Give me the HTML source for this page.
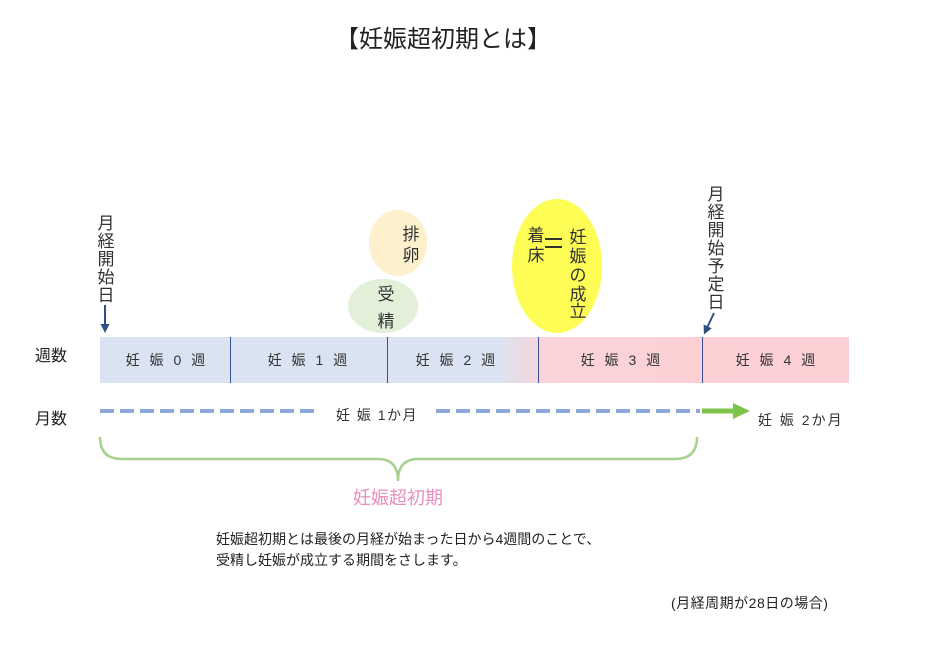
<!DOCTYPE html>
<html><head><meta charset="utf-8"><style>
html,body{margin:0;padding:0;background:#fff;}
svg text{font-family:"Liberation Sans","Noto Sans CJK JP",sans-serif;}
</style></head><body>
<svg width="935" height="652" viewBox="0 0 935 652" xmlns="http://www.w3.org/2000/svg">
<defs>
<linearGradient id="g" x1="100" x2="849" y1="0" y2="0" gradientUnits="userSpaceOnUse">
<stop offset="0" stop-color="#dae3f2"/>
<stop offset="0.53" stop-color="#dae3f2"/>
<stop offset="0.6" stop-color="#fbd3d6"/>
<stop offset="1" stop-color="#fccfd3"/>
</linearGradient>
<marker id="ab" markerUnits="userSpaceOnUse" markerWidth="9" markerHeight="9" refX="4" refY="4.5" orient="auto"><path d="M0,0 L9,4.5 L0,9 z" fill="#2f4f82"/></marker>
</defs>
<text x="443" y="47" font-size="24" text-anchor="middle" fill="#222">【妊娠超初期とは】</text>

<ellipse cx="398" cy="243" rx="29" ry="33" fill="#fdf0cc"/>
<ellipse cx="383" cy="306" rx="35" ry="27" fill="#e2efd9"/>
<ellipse cx="557" cy="266" rx="45" ry="67" fill="#fdfd55"/>
<text x="411" y="240" font-size="17" text-anchor="middle" fill="#333">排</text>
<text x="411" y="261" font-size="17" text-anchor="middle" fill="#333">卵</text>
<text x="386" y="300" font-size="17" text-anchor="middle" fill="#333">受</text>
<text x="386" y="327" font-size="17" text-anchor="middle" fill="#333">精</text>
<text x="536" y="241" font-size="17" text-anchor="middle" fill="#333">着</text>
<text x="536" y="261" font-size="17" text-anchor="middle" fill="#333">床</text>
<rect x="545" y="238" width="17" height="2" fill="#333"/>
<rect x="545" y="246" width="17" height="2" fill="#333"/>
<g font-size="17" fill="#333" text-anchor="middle">
<text x="578" y="243">妊</text><text x="578" y="262">娠</text><text x="578" y="281">の</text><text x="578" y="300">成</text><text x="578" y="317">立</text>
</g>

<g font-size="17" fill="#333" text-anchor="middle">
<text x="106" y="229">月</text><text x="106" y="247">経</text><text x="106" y="265">開</text><text x="106" y="283">始</text><text x="106" y="301">日</text>
</g>
<line x1="105" y1="305" x2="105" y2="328" stroke="#2f4f82" stroke-width="2" marker-end="url(#ab)"/>
<g font-size="17" fill="#333" text-anchor="middle">
<text x="716" y="200">月</text><text x="716" y="218">経</text><text x="716" y="236">開</text><text x="716" y="254">始</text><text x="716" y="272">予</text><text x="716" y="290">定</text><text x="716" y="308">日</text>
</g>
<line x1="714" y1="313" x2="706" y2="330" stroke="#2f4f82" stroke-width="2" marker-end="url(#ab)"/>

<text x="35" y="361" font-size="16" fill="#222">週数</text>
<rect x="100" y="337" width="749" height="46" fill="url(#g)"/>
<g stroke="#3a4f9a" stroke-width="1">
<line x1="230.5" y1="337" x2="230.5" y2="383"/>
<line x1="387.5" y1="337" x2="387.5" y2="383"/>
<line x1="538.5" y1="337" x2="538.5" y2="383"/>
<line x1="702.5" y1="337" x2="702.5" y2="383"/>
</g>
<g font-size="14" fill="#333" text-anchor="middle" letter-spacing="3">
<text x="167" y="365">妊 娠 0 週</text>
<text x="309" y="365">妊 娠 1 週</text>
<text x="457" y="365">妊 娠 2 週</text>
<text x="622" y="365">妊 娠 3 週</text>
<text x="777" y="365">妊 娠 4 週</text>
</g>

<text x="35" y="424" font-size="16" fill="#222">月数</text>
<line x1="100" y1="411" x2="316" y2="411" stroke="#8ea9d6" stroke-width="4" stroke-dasharray="14,6"/>
<line x1="436" y1="411" x2="700" y2="411" stroke="#8ea9d6" stroke-width="4" stroke-dasharray="14,6"/>
<text x="377" y="420" font-size="14" fill="#333" text-anchor="middle" letter-spacing="1.5">妊 娠 1か月</text>
<line x1="702" y1="411" x2="735" y2="411" stroke="#7ec44a" stroke-width="5"/>
<path d="M733,403 L750,411 L733,419 z" fill="#7ec44a"/>
<text x="758" y="425" font-size="14" fill="#333" letter-spacing="2">妊 娠 2か月</text>

<path d="M100,437 Q100,459 122,459 L378,459 Q398,459 398,481 Q398,459 418,459 L675,459 Q697,459 697,437" fill="none" stroke="#a9d18e" stroke-width="2.5"/>
<text x="398" y="504" font-size="18" fill="#e68fc0" text-anchor="middle">妊娠超初期</text>

<text x="216" y="544" font-size="14" fill="#222">妊娠超初期とは最後の月経が始まった日から4週間のことで、</text>
<text x="216" y="565" font-size="14" fill="#222">受精し妊娠が成立する期間をさします。</text>
<text x="671" y="608" font-size="14" fill="#222" letter-spacing="0.5">(月経周期が28日の場合)</text>
</svg>
</body></html>
